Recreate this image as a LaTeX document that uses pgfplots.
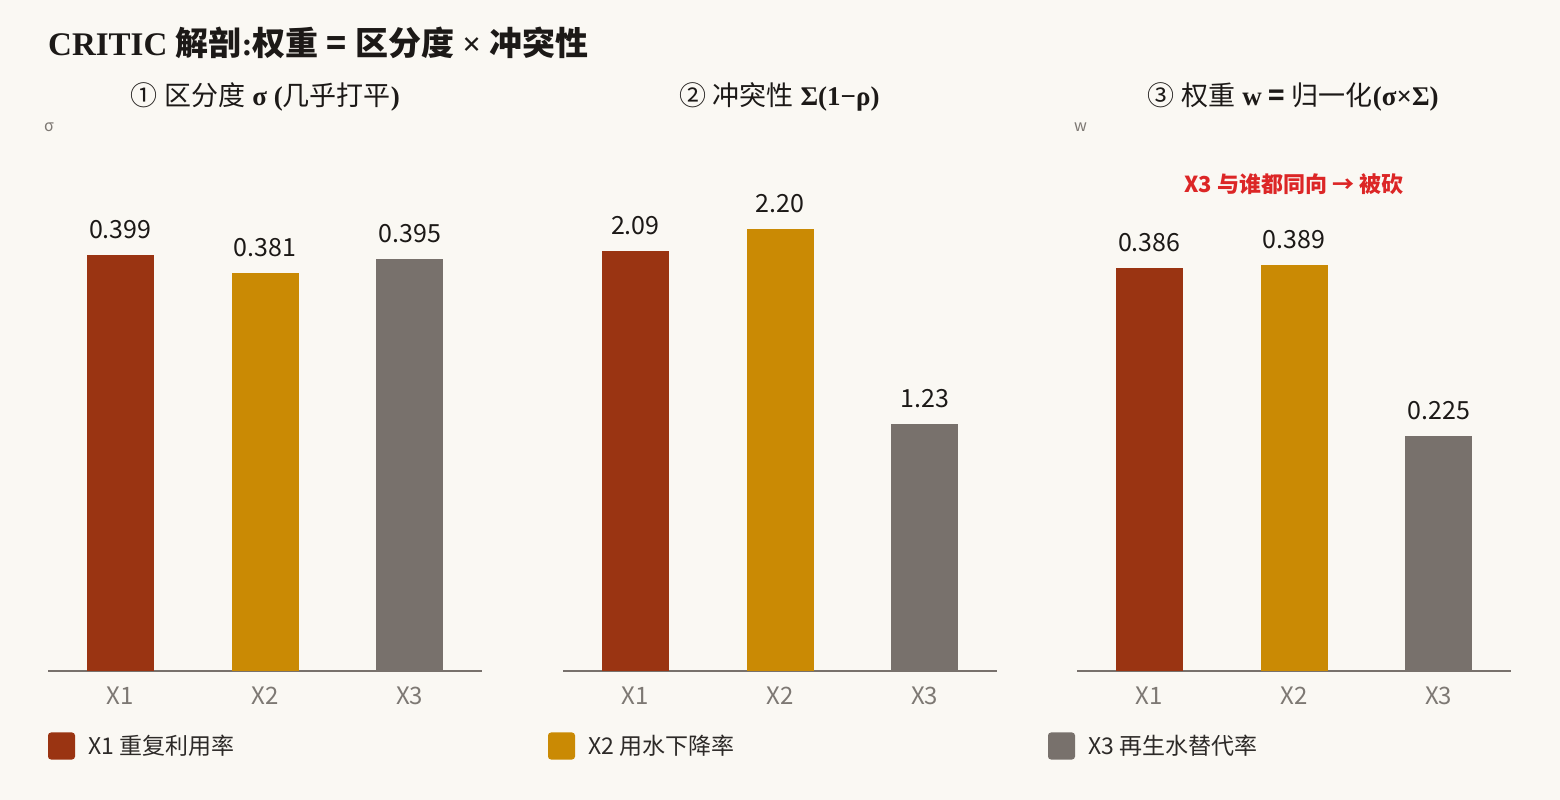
\documentclass[border=0pt]{standalone}
\usepackage{pgfplots}
\pgfplotsset{compat=1.18}
\usepackage{fontspec}
\setmainfont{Liberation Serif}
\newfontfamily\cjk{Noto Sans CJK SC}
\newfontfamily\lserif{Liberation Serif}

\definecolor{bgc}{RGB}{250,248,243}
\definecolor{c1}{RGB}{154,52,18}
\definecolor{c2}{RGB}{202,138,4}
\definecolor{c3}{RGB}{120,113,108}
\definecolor{axisc}{RGB}{120,113,108}
\definecolor{tickc}{RGB}{125,120,115}
\definecolor{textc}{RGB}{28,25,23}
\definecolor{legc}{RGB}{45,42,40}
\definecolor{annc}{RGB}{220,38,38}

\pgfplotsset{
  panel/.style={
    scale only axis, width=434bp, height=542.7bp, anchor=south west,
    ybar, bar width=67bp, bar shift=0pt,
    xmin=-0.5, xmax=2.5, ymin=0,
    xtick={0,1,2}, xticklabels={X1,X2,X3},
    axis x line=bottom, axis y line=none,
    x axis line style={-, draw=axisc, line width=2bp},
    xtick style={draw=none}, major tick length=0pt,
    xticklabel style={font=\cjk\fontsize{24bp}{28bp}\selectfont, text=tickc, inner sep=0pt, yshift=-16bp},
    clip=false,
    every node near coord/.append style={font=\cjk\fontsize{25bp}{30bp}\selectfont, text=textc, inner sep=0pt, anchor=south, yshift=16bp},
    legend image code/.code={\fill[##1,rounded corners=3bp] (0bp,-13.5bp) rectangle (27bp,13.5bp);},
    legend style={at={(0,0)}, anchor=west, draw=none, fill=none, inner sep=0pt, outer sep=0pt,
      nodes={inner sep=0pt, font=\cjk\fontsize{23bp}{28bp}\selectfont, text=legc},
      /tikz/every odd column/.append style={column sep=13bp}},
  },
  dec3/.style={nodes near coords={\pgfmathprintnumber[fixed,fixed zerofill,precision=3,assume math mode=true]{\pgfplotspointmeta}}},
  dec2/.style={nodes near coords={\pgfmathprintnumber[fixed,fixed zerofill,precision=2,assume math mode=true]{\pgfplotspointmeta}}},
}

\begin{document}
\begin{tikzpicture}
\fill[bgc] (0,0) rectangle (1560bp,800bp);

% title
\node[anchor=base west, inner sep=0pt, text=textc, font=\lserif\bfseries\fontsize{33bp}{38bp}\selectfont]
  at (48bp,744bp) {CRITIC {\cjk 解剖}:{\cjk 权重} {\cjk =} {\cjk 区分度} × {\cjk 冲突性}};

% panel titles
\node[anchor=base, inner sep=0pt, text=textc, font=\lserif\fontsize{27bp}{31bp}\selectfont]
  at (265.3bp,694bp) {{\cjk ①} {\cjk 区分度} \textbf{σ (}{\cjk 几乎打平}\textbf{)}};
\node[anchor=base, inner sep=0pt, text=textc, font=\lserif\fontsize{27bp}{31bp}\selectfont]
  at (779.3bp,694bp) {{\cjk ②} {\cjk 冲突性} \textbf{Σ(1−ρ)}};
\node[anchor=base, inner sep=0pt, text=textc, font=\lserif\fontsize{27bp}{31bp}\selectfont]
  at (1293.3bp,694bp) {{\cjk ③} {\cjk 权重} \textbf{w {\cjk =} }{\cjk 归一化}\textbf{(σ×Σ)}};

% y-axis names
\node[anchor=base west, inner sep=0pt, text=tickc, font=\cjk\fontsize{16bp}{18bp}\selectfont] at (44bp,668bp) {σ};
\node[anchor=base west, inner sep=0pt, text=tickc, font=\cjk\fontsize{16bp}{18bp}\selectfont] at (1074bp,668bp) {w};

% panel 1: sigma
\begin{axis}[panel, dec3, at={(48bp,129bp)}, ymax=0.52, legend style={yshift=-75bp}]
\addplot[fill=c1, draw=none] coordinates {(0,0.399)};
\addlegendentry{X1 重复利用率}
\addplot[fill=c2, draw=none, forget plot] coordinates {(1,0.381)};
\addplot[fill=c3, draw=none, forget plot] coordinates {(2,0.395)};
\end{axis}

% panel 2: conflict
\begin{axis}[panel, dec2, at={(563bp,129bp)}, ymax=2.70, legend style={xshift=-15bp, yshift=-75bp}]
\addplot[fill=c1, draw=none, forget plot] coordinates {(0,2.09)};
\addplot[fill=c2, draw=none] coordinates {(1,2.20)};
\addlegendentry{X2 用水下降率}
\addplot[fill=c3, draw=none, forget plot] coordinates {(2,1.23)};
\end{axis}

% panel 3: weights
\begin{axis}[panel, dec3, at={(1077bp,129bp)}, ymax=0.52, legend style={xshift=-29bp, yshift=-75bp}]
\addplot[fill=c1, draw=none, forget plot] coordinates {(0,0.386)};
\addplot[fill=c2, draw=none, forget plot] coordinates {(1,0.389)};
\addplot[fill=c3, draw=none] coordinates {(2,0.225)};
\addlegendentry{X3 再生水替代率}
\node[font=\cjk\bfseries\fontsize{22bp}{26bp}\selectfont, text=annc, inner sep=0pt] at (axis cs:1,0.4667) {X3 与谁都同向 → 被砍};
\end{axis}
\end{tikzpicture}
\end{document}
